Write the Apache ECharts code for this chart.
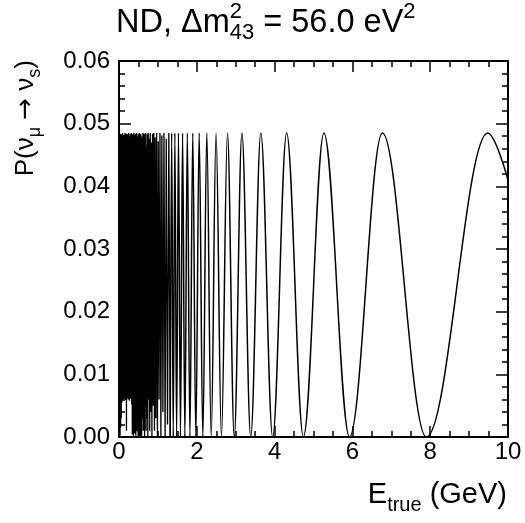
<!DOCTYPE html>
<html><head><meta charset="utf-8">
<script src="https://cdn.jsdelivr.net/npm/echarts@6/dist/echarts.min.js"></script>
<style>html,body{margin:0;padding:0;background:#fff}#c{width:525px;height:523px}</style>
</head><body><div id="c"></div>
<script>
// ---- data ----
// low-energy band (aliased, unresolved oscillations)
const lowE = [0.005,0.012,0.02,0.028,0.035,0.042,0.05,0.058,0.065,0.072,0.08,0.088,0.095,0.102,0.11,0.118,0.125,0.132,0.14,0.148,0.155,0.162,0.17,0.178,0.185,0.192,0.2,0.208,0.215,0.222,0.23,0.238,0.245,0.252,0.26,0.268,0.275,0.282,0.29,0.298,0.305,0.312,0.32,0.328,0.335,0.342,0.35,0.358,0.365,0.372,0.38,0.388,0.395,0.402,0.41,0.418,0.425,0.432,0.44,0.448,0.455,0.462,0.47,0.478,0.485,0.492,0.5,0.508,0.515,0.522,0.53,0.538,0.545,0.552,0.56,0.568,0.575,0.582];
const lowP = [0.0481,0.0008,0.0478,0.0002,0.0484,0.0015,0.0470,0.0030,0.0483,0.0055,0.0476,0.0063,0.0485,0.0060,0.0468,0.0066,0.0482,0.0061,0.0479,0.0068,0.0485,0.0059,0.0473,0.0064,0.0484,0.0010,0.0477,0.0062,0.0483,0.0067,0.0469,0.0060,0.0485,0.0065,0.0480,0.0058,0.0474,0.0063,0.0484,0.0061,0.0478,0.0066,0.0485,0.0052,0.0471,0.0004,0.0483,0.0040,0.0479,0.0001,0.0485,0.0035,0.0467,0.0006,0.0482,0.0047,0.0484,0.0002,0.0475,0.0052,0.0485,0.0009,0.0480,0.0044,0.0472,0.0000,0.0484,0.0055,0.0481,0.0003,0.0485,0.0038,0.0470,0.0001,0.0483,0.0049,0.0478,0.0002];
// partly resolved oscillations
const midE = [0.600,0.608,0.616,0.624,0.632,0.641,0.649,0.658,0.668,0.677,0.687,0.697,0.707,0.718,0.729,0.741,0.752,0.765,0.777,0.790,0.803,0.817,0.832,0.846,0.862,0.878,0.894,0.912,0.929,0.948,0.967,0.988,1.009,1.030,1.053,1.077,1.102,1.129,1.156,1.185,1.215,1.247,1.281,1.317];
const midP = [0.0480,0.003,0.0485,0.001,0.0470,0.004,0.0484,0.000,0.0478,0.005,0.0485,0.001,0.0466,0.003,0.0483,0.000,0.0485,0.006,0.0476,0.001,0.0485,0.004,0.0470,0.000,0.0484,0.005,0.0485,0.001,0.0478,0.003,0.0485,0.000,0.0472,0.006,0.0485,0.000,0.0481,0.004,0.0485,0.000,0.0476,0.002,0.0485,0.000];
// resolved oscillations: zeros and maxima (GeV)
const zeroE = [1.317,1.394,1.481,1.580,1.693,1.823,1.975,2.155,2.370,2.633,2.963,3.386,3.950,4.740,5.925,7.900];
const peakE = [1.354,1.436,1.529,1.634,1.756,1.896,2.061,2.257,2.495,2.788,3.160,3.646,4.309,5.267,6.771,9.480];
const peakP = 0.0485;
const endE = 10.0, endP = 0.041;

const FONT = '"Liberation Sans", Arial, Helvetica, sans-serif';
const AFONT = '"DejaVu Sans", sans-serif';
const chart = echarts.init(document.getElementById('c'), null, {renderer: 'canvas'});

const straightPts = lowE.map((e, i) => [e, lowP[i]]).concat(midE.map((e, i) => [e, midP[i]]));
const smoothPts = zeroE.map(e => [e, 0]).concat(peakE.map(e => [e, peakP])).sort((a, b) => a[0] - b[0]);
smoothPts.push([endE, endP]);

const mctx = document.createElement('canvas').getContext('2d');
function tw(t, s, f) { mctx.font = s + 'px ' + (f || FONT); return mctx.measureText(t).width; }
function layout(segs, x0, base) {
  let x = x0; const els = [];
  segs.forEach(g => {
    els.push({type: 'text', x: x, y: base + (g.dy || 0) - 0.35 * g.s, silent: true,
      style: {text: g.t, fontSize: g.s, fontFamily: g.f || FONT, fill: '#000', align: 'left', verticalAlign: 'middle'}});
    if (!g.noAdv) x += tw(g.t, g.s, g.f);
  });
  return {els: els, width: x - x0};
}
function segWidth(segs) { return segs.reduce((a, g) => a + (g.noAdv ? 0 : tw(g.t, g.s, g.f)), 0); }

// title
const T = 32.5, TS = 22;
const titleSegs = [{t: 'ND, \u0394m', s: T}, {t: '2', s: TS, dy: -0.45 * T, noAdv: true}, {t: '43', s: TS, dy: 0.2 * T}, {t: ' = 56.0 eV', s: T}, {t: '2', s: TS, dy: -0.45 * T}];
const title = layout(titleSegs, 116, 34);

// x title (right aligned)
const XT = 29, XS = 20;
const xSegs = [{t: 'E', s: XT}, {t: 'true', s: XS, dy: 0.25 * XT}, {t: ' (GeV)', s: XT}];
const xTitle = layout(xSegs, 507 - segWidth(xSegs), 505);

// y title (rotated, top end at y=60)
const YT = 26, YS = 18;
const ySegs = [{t: 'P(\u03bd', s: YT}, {t: '\u03bc', s: YS, dy: 0.25 * YT}, {t: ' ', s: YT}, {t: '\u2192', s: YT, f: AFONT}, {t: ' \u03bd', s: YT}, {t: 's', s: YS, dy: 0.25 * YT}, {t: ')', s: YT}];
const yTitle = layout(ySegs, 0, 0);
const yLen = segWidth(ySegs);

const tickCommon = {
  axisLine: {show: true, onZero: false, lineStyle: {color: '#000', width: 2}},
  splitLine: {show: false}, minorSplitLine: {show: false}
};
const xBase = {type: 'value', min: 0, max: 10, interval: 2,
  axisTick: {show: true, inside: true, length: 11, lineStyle: {color: '#000', width: 1.5}},
  minorTick: {show: true, splitNumber: 4, length: 6, lineStyle: {color: '#000', width: 1.5}}};
const yBase = {type: 'value', min: 0, max: 0.06, interval: 0.01,
  axisTick: {show: true, inside: true, length: 12, lineStyle: {color: '#000', width: 1.5}},
  minorTick: {show: true, splitNumber: 5, length: 6, lineStyle: {color: '#000', width: 1.5}}};

chart.setOption({
  animation: false,
  backgroundColor: '#fff',
  grid: {left: 119, top: 61, width: 389, height: 376, containLabel: false, outerBoundsMode: 'none'},
  xAxis: [
    Object.assign({}, xBase, tickCommon, {position: 'bottom',
      axisLabel: {show: true, fontSize: 24, fontFamily: FONT, color: '#000', margin: 3, formatter: v => String(v)}}),
    Object.assign({}, xBase, tickCommon, {position: 'top', axisLabel: {show: false}})
  ],
  yAxis: [
    Object.assign({}, yBase, tickCommon, {position: 'left',
      axisLabel: {show: true, fontSize: 24, fontFamily: FONT, color: '#000', margin: 9, formatter: v => v.toFixed(2)}}),
    Object.assign({}, yBase, tickCommon, {position: 'right', axisLabel: {show: false}})
  ],
  series: [
    {type: 'line', data: straightPts, xAxisIndex: 0, yAxisIndex: 0, smooth: false, showSymbol: false, symbol: 'none',
      lineStyle: {color: '#000', width: 1.3}, silent: true, z: 3},
    {type: 'line', data: smoothPts, xAxisIndex: 0, yAxisIndex: 0, smooth: 0.364, smoothMonotone: 'x', showSymbol: false, symbol: 'none',
      lineStyle: {color: '#000', width: 1.5}, silent: true, z: 3}
  ],
  graphic: {elements: [
    {type: 'group', silent: true, children: title.els},
    {type: 'group', silent: true, children: xTitle.els},
    {type: 'group', silent: true, x: 35, y: 60 + yLen, rotation: Math.PI / 2, children: yTitle.els}
  ]}
});
</script></body></html>
